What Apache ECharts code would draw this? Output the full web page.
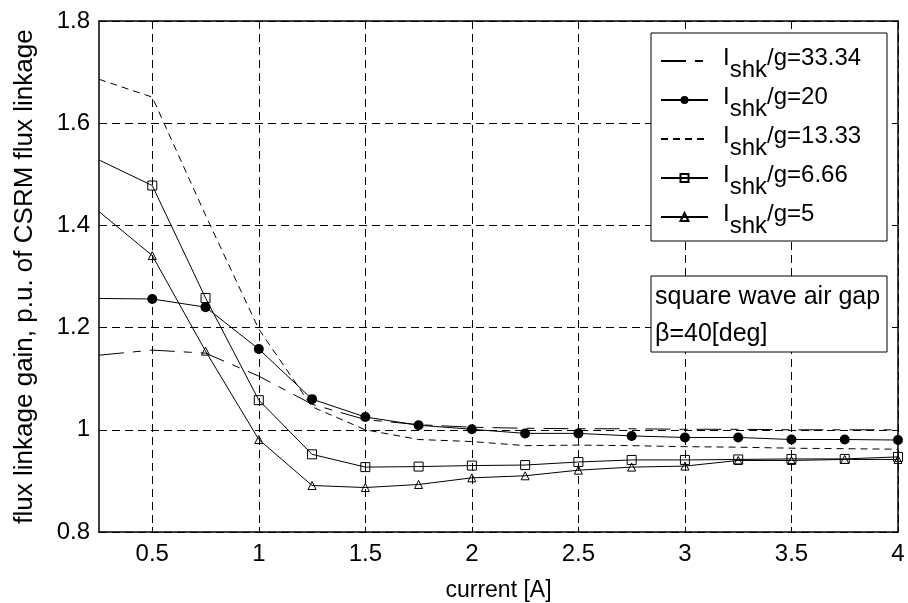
<!DOCTYPE html>
<html>
<head>
<meta charset="utf-8">
<script src="https://cdn.jsdelivr.net/npm/echarts@6/dist/echarts.min.js"></script>
<style>
html,body{margin:0;padding:0;background:#fff;}
#c{width:908px;height:603px;}
</style>
</head>
<body>
<div id="c"></div>
<script>
// ---- data ----
const currents = [0.25, 0.5, 0.75, 1, 1.25, 1.5, 1.75, 2, 2.25, 2.5, 2.75, 3, 3.25, 3.5, 3.75, 4];
const g3334 = [1.146, 1.156, 1.150, 1.105, 1.050, 1.020, 1.010, 1.005, 1.003, 1.002, 1.002, 1.001, 1.001, 1.000, 1.000, 1.000];
const g20   = [1.257, 1.256, 1.240, 1.158, 1.060, 1.025, 1.009, 1.001, 0.993, 0.993, 0.988, 0.985, 0.985, 0.981, 0.981, 0.980];
const g1333 = [1.686, 1.651, 1.420, 1.197, 1.045, 1.000, 0.981, 0.977, 0.969, 0.970, 0.969, 0.967, 0.966, 0.964, 0.963, 0.962];
const g666  = [1.528, 1.478, 1.258, 1.058, 0.952, 0.927, 0.928, 0.930, 0.931, 0.937, 0.941, 0.941, 0.942, 0.943, 0.943, 0.947];
const g5    = [1.427, 1.341, 1.154, 0.981, 0.891, 0.887, 0.893, 0.906, 0.910, 0.921, 0.927, 0.929, 0.940, 0.940, 0.942, 0.942];
const seriesNames = ['33.34', '20', '13.33', '6.66', '5'];
const xTicks = [0.5, 1, 1.5, 2, 2.5, 3, 3.5, 4];
const yTicks = [0.8, 1.0, 1.2, 1.4, 1.6, 1.8];
const xTitle = 'current [A]';
const yTitle = 'flux linkage gain, p.u. of CSRM flux linkage';
const noteLines = ['square wave air gap', 'β=40[deg]'];

const FONT = 'Liberation Sans, Arial, Helvetica, sans-serif';

function pts(vals) {
  return currents.map((x, i) => i === 0 ? { value: [x, vals[i]], symbol: 'none' } : [x, vals[i]]);
}

const gridDash = [8, 5];
const chart = echarts.init(document.getElementById('c'), null, { renderer: 'canvas' });

const baseSeries = (name, vals, extra) => Object.assign({
  name: 'I_shk/g=' + name,
  type: 'line',
  data: pts(vals),
  animation: false,
  clip: true,
  z: 2,
  lineStyle: { color: '#000', width: 1 },
  emphasis: { disabled: true }
}, extra);

const series = [
  baseSeries(seriesNames[0], g3334, {
    symbol: 'none', showSymbol: false,
    lineStyle: { color: '#000', width: 1, type: [25, 9, 8, 9] }
  }),
  baseSeries(seriesNames[1], g20, {
    symbol: 'circle', symbolSize: 10,
    itemStyle: { color: '#000' }
  }),
  baseSeries(seriesNames[2], g1333, {
    symbol: 'none', showSymbol: false,
    lineStyle: { color: '#000', width: 1, type: [7, 5] }
  }),
  baseSeries(seriesNames[3], g666, {
    symbol: 'rect', symbolSize: 9,
    itemStyle: { color: 'rgba(0,0,0,0)', borderColor: '#000', borderWidth: 1 }
  }),
  baseSeries(seriesNames[4], g5, {
    symbol: 'triangle', symbolSize: 8,
    itemStyle: { color: 'rgba(0,0,0,0)', borderColor: '#000', borderWidth: 1 }
  })
];

const legendData = series.map((s, i) => {
  const d = { name: s.name };
  if (i === 0 || i === 2) d.itemStyle = { opacity: 0 };
  return d;
});

const option = {
  backgroundColor: '#fff',
  animation: false,
  grid: { left: 99, right: 10, top: 21, bottom: 71, containLabel: false, outerBoundsMode: 'none' },
  xAxis: [{
    type: 'value', min: 0.25, max: 4, position: 'bottom',
    name: xTitle, nameLocation: 'middle', nameGap: 47,
    nameTextStyle: { fontFamily: FONT, fontSize: 23, color: '#000' },
    axisLine: { show: true, onZero: false, lineStyle: { color: '#000', width: 1.5 } },
    axisTick: { show: true, inside: true, length: 5, customValues: xTicks, lineStyle: { color: '#000' } },
    axisLabel: { show: true, customValues: xTicks, margin: 10, fontFamily: FONT, fontSize: 24, color: '#000',
      formatter: v => String(v) },
    splitLine: { show: true, lineStyle: { color: '#000', width: 1, type: gridDash } }
  }, {
    type: 'value', min: 0.25, max: 4, position: 'top',
    axisLine: { show: true, onZero: false, lineStyle: { color: '#000', width: 1.5 } },
    axisTick: { show: true, inside: true, length: 5, customValues: xTicks, lineStyle: { color: '#000' } },
    axisLabel: { show: false },
    splitLine: { show: false }
  }],
  yAxis: [{
    type: 'value', min: 0.8, max: 1.8, interval: 0.2, position: 'left',
    name: yTitle, nameLocation: 'middle', nameGap: 61, nameRotate: 90,
    nameTextStyle: { fontFamily: FONT, fontSize: 26, color: '#000' },
    axisLine: { show: true, onZero: false, lineStyle: { color: '#000', width: 1.5 } },
    axisTick: { show: true, inside: true, length: 5, lineStyle: { color: '#000' } },
    axisLabel: { show: true, margin: 9, fontFamily: FONT, fontSize: 24, color: '#000',
      formatter: v => (Math.abs(v - 1) < 1e-9 ? '1' : v.toFixed(1)) },
    splitLine: { show: true, lineStyle: { color: '#000', width: 1, type: gridDash } }
  }, {
    type: 'value', min: 0.8, max: 1.8, interval: 0.2, position: 'right',
    axisLine: { show: true, onZero: false, lineStyle: { color: '#000', width: 1.5 } },
    axisTick: { show: true, inside: true, length: 5, lineStyle: { color: '#000' } },
    axisLabel: { show: false },
    splitLine: { show: false }
  }],
  legend: {
    show: true,
    orient: 'vertical',
    left: 651, top: 33,
    padding: [13, 0, 0, 9],
    itemGap: 3,
    itemWidth: 47, itemHeight: 10,
    selectedMode: false,
    data: legendData,
    z: 6,
    formatter: name => {
      const v = name.split('=')[1];
      return '{m|I}{s|shk}{m2|/g=' + v + '}';
    },
    textStyle: {
      fontFamily: FONT, fontSize: 24, color: '#000',
      rich: {
        m: { fontFamily: FONT, fontSize: 24, color: '#000', padding: [0, 0, 6, 10] },
        s: { fontFamily: FONT, fontSize: 24, color: '#000', padding: [18, 0, 0, 0] },
        m2: { fontFamily: FONT, fontSize: 24, color: '#000', padding: [0, 0, 6, 0] }
      }
    }
  },
  graphic: [
    { type: 'rect', z: 5, shape: { x: 651, y: 33, width: 236, height: 208 },
      style: { fill: '#fff', stroke: '#000', lineWidth: 1 } },
    { type: 'rect', z: 5, shape: { x: 651, y: 276, width: 236, height: 76 },
      style: { fill: '#fff', stroke: '#000', lineWidth: 1 } },
    { type: 'text', z: 6, x: 655, y: 297,
      style: { text: noteLines[0], fill: '#000', font: '25px ' + FONT, textVerticalAlign: 'middle', verticalAlign: 'middle' } },
    { type: 'text', z: 6, x: 655, y: 334,
      style: { text: noteLines[1], fill: '#000', font: '25px ' + FONT, textVerticalAlign: 'middle', verticalAlign: 'middle' } }
  ],
  series: series
};
chart.setOption(option);
</script>
</body>
</html>
